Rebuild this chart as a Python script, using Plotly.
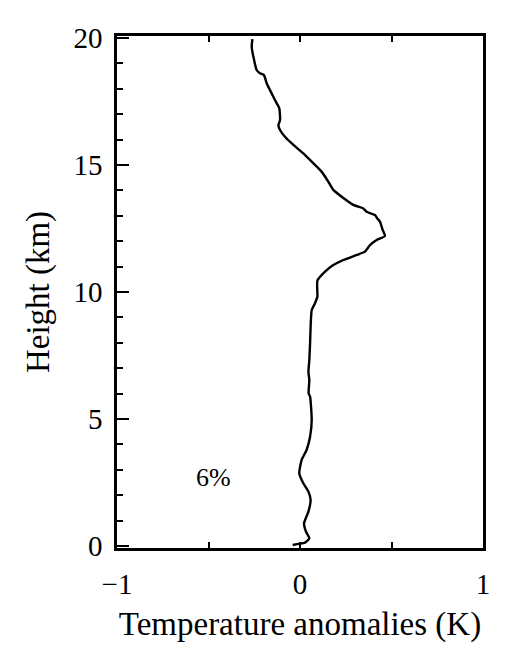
import plotly.graph_objects as go

height_km = [19.96, 19.66, 19.27, 18.74, 18.61, 18.54, 18.22, 17.95, 17.56, 17.23,
             16.77, 16.57, 16.38, 16.11, 15.79, 15.46, 15.13, 14.74, 14.34, 14.02,
             13.75, 13.43, 13.29, 13.16, 13.03, 12.90, 12.77, 12.44, 12.20, 12.05,
             11.85, 11.59, 11.46, 11.26, 11.06, 10.80, 10.45, 9.82, 9.56, 9.29,
             8.63, 7.98, 7.32, 6.86, 6.54, 6.01, 5.88, 4.96, 4.30, 3.78,
             3.39, 2.86, 2.47, 2.14, 1.81, 1.35, 0.89, 0.56, 0.30, 0.13,
             0.08, 0.04]
temp_anom = [-0.260, -0.264, -0.255, -0.237, -0.219, -0.197, -0.182, -0.164, -0.137, -0.113,
             -0.109, -0.118, -0.109, -0.082, -0.036, 0.018, 0.064, 0.118, 0.155, 0.182,
             0.228, 0.291, 0.346, 0.364, 0.410, 0.422, 0.437, 0.452, 0.464, 0.419,
             0.383, 0.355, 0.310, 0.237, 0.182, 0.137, 0.095, 0.095, 0.082, 0.064,
             0.058, 0.055, 0.051, 0.046, 0.051, 0.047, 0.055, 0.064, 0.055, 0.036,
             0.009, -0.004, 0.018, 0.046, 0.058, 0.046, 0.022, 0.033, 0.051, 0.027,
             -0.009, -0.040]

x_ticks = [-1, 0, 1]
y_ticks = [0, 5, 10, 15, 20]
label_text = "6%"
label_pos = (-0.47, 2.7)

FONT = "Liberation Serif"

fig = go.Figure()
fig.add_trace(go.Scatter(x=temp_anom, y=height_km, mode="lines",
                         line=dict(color="black", width=2.4, shape="spline", smoothing=0.5),
                         showlegend=False, hoverinfo="skip"))

fig.add_annotation(x=label_pos[0], y=label_pos[1], text=label_text, showarrow=False,
                   font=dict(family=FONT, size=26, color="black"))

# page body has an 8px margin; figure is sized so the plot area lands where the reference has it
fig.update_layout(
    width=501, height=659,
    margin=dict(l=109, r=26, t=28, b=119),
    paper_bgcolor="white", plot_bgcolor="white",
    font=dict(family=FONT, color="black"),
)
fig.update_xaxes(
    range=[-1, 1], tickvals=x_ticks, ticktext=["\u22121", "0", "1"],
    showgrid=False, zeroline=False,
    showline=True, linecolor="black", linewidth=2.5, mirror="allticks",
    ticks="inside", ticklen=6, tickwidth=1.5, tickcolor="black",
    tickfont=dict(family=FONT, size=29), ticklabelstandoff=8,
    minor=dict(tickvals=[-0.5, 0.5], ticks="inside", ticklen=6, tickwidth=1.5, tickcolor="black"),
    title=dict(text="Temperature anomalies (K)", font=dict(family=FONT, size=33), standoff=14),
)
fig.update_yaxes(
    range=[-0.08, 20.08], tickvals=y_ticks,
    showgrid=False, zeroline=False,
    showline=True, linecolor="black", linewidth=2.5, mirror=True,
    ticks="inside", ticklen=12, tickwidth=1.5, tickcolor="black",
    tickfont=dict(family=FONT, size=29), ticklabelstandoff=6,
    minor=dict(dtick=1, ticks="inside", ticklen=6, tickwidth=1.5, tickcolor="black"),
    title=dict(text="Height (km)", font=dict(family=FONT, size=33), standoff=14),
)

fig.write_html("out.html")
